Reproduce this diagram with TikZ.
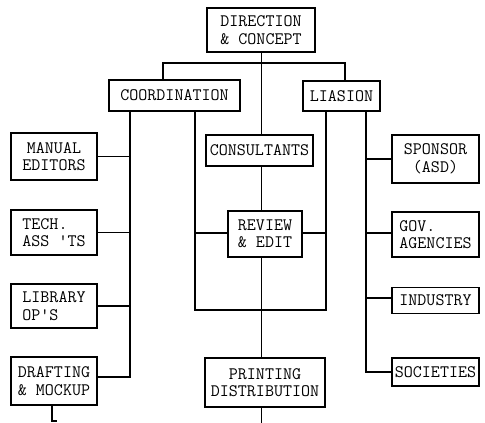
\documentclass[tikz,border=0pt]{standalone}
\begin{document}
\begin{tikzpicture}[x=1pt,y=-1pt,
  box/.style={draw,line width=1.3pt,inner sep=0pt,align=center,
    font=\ttfamily\fontsize{17.5}{17.5}\selectfont},
  conn/.style={line width=1.2pt},
  thin/.style={line width=0.8pt}]
\useasboundingbox (0,0) rectangle (485,423);
% boxes
\node[box,minimum width=108pt,minimum height=44pt] (dir) at (261,30) {DIRECTION\\\& CONCEPT};
\node[box,minimum width=131pt,minimum height=31pt] (coord) at (174.5,95.5) {COORDINATION};
\node[box,minimum width=77pt,minimum height=30pt] (lia) at (341.5,96) {LIASION};
\node[box,minimum width=86pt,minimum height=47pt] (man) at (54,156.5) {MANUAL\\EDITORS};
\node[box,minimum width=86pt,minimum height=45pt,align=left] (tech) at (54,232.5) {TECH.\\ASS 'TS};
\node[box,minimum width=86pt,minimum height=44pt,align=left] (lib) at (54,306) {LIBRARY\\OP'S};
\node[box,minimum width=86pt,minimum height=48pt] (draft) at (54,381) {DRAFTING\\\& MOCKUP};
\node[box,minimum width=107pt,minimum height=31pt] (cons) at (259.5,150.5) {CONSULTANTS};
\node[box,minimum width=74pt,minimum height=46pt] (rev) at (265,234) {REVIEW\\\& EDIT};
\node[box,minimum width=120pt,minimum height=49pt] (print) at (265,382.5) {PRINTING\\DISTRIBUTION};
\node[box,minimum width=87pt,minimum height=48pt] (spon) at (435.5,159) {SPONSOR\\(ASD)};
\node[box,minimum width=87pt,minimum height=45pt,align=left] (gov) at (435.5,234.5) {GOV.\\AGENCIES};
\node[box,minimum width=87pt,minimum height=26pt] (ind) at (435.5,300.5) {INDUSTRY};
\node[box,minimum width=87pt,minimum height=28pt] (soc) at (435.5,372) {SOCIETIES};
% junction coordinates
\coordinate (tl) at (163,63);
\coordinate (tr) at (345,63);
\coordinate (cL) at (130,377);
\coordinate (jA) at (195,310);
\coordinate (jB) at (326,310);
\coordinate (lS) at (366,372);
\coordinate (endC) at (261,423);
\coordinate (endD) at (52,421);
\coordinate (endD2) at (57,421);
% center spine
\draw[thin] (dir.south -| 261,0) -- (cons.north -| 261,0);
\draw[thin] (cons.south -| 261,0) -- (rev.north -| 261,0);
\draw[thin] (rev.south -| 261,0) -- (print.north -| 261,0);
\draw[thin] (print.south -| 261,0) -- (endC);
% top bar
\draw[conn] (coord.north -| tl) -- (tl) -- (tr) -- (lia.north -| tr);
% coordination left branch
\draw[conn] (coord.south -| cL) -- (cL) -- (draft.east |- cL);
\draw[conn] (man.east) -- (man.east -| cL);
\draw[conn] (tech.east) -- (tech.east -| cL);
\draw[conn] (lib.east) -- (lib.east -| cL);
% coordination right branch and liasion left branch
\draw[conn] (coord.south -| jA) -- (jA) -- (jB) -- (lia.south -| jB);
\draw[conn] (rev.west |- 0,233) -- (jA |- 0,233);
\draw[conn] (rev.east |- 0,233) -- (jB |- 0,233);
% liasion right branch
\draw[conn] (lia.south -| lS) -- (lS) -- (soc.west |- lS);
\draw[conn] (spon.west) -- (spon.west -| lS);
\draw[conn] (gov.west |- 0,233) -- (lS |- 0,233);
\draw[conn] (ind.west |- 0,298) -- (lS |- 0,298);
% drafting tail
\draw[conn] (draft.south -| endD) -- (endD) -- (endD2);
\end{tikzpicture}
\end{document}
